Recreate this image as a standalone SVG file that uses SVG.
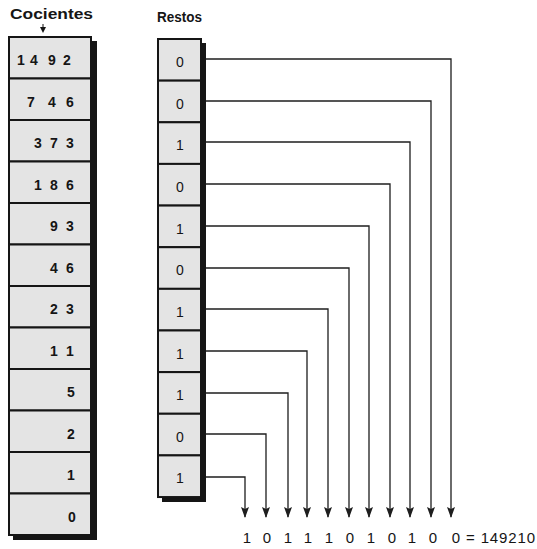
<svg xmlns="http://www.w3.org/2000/svg" width="537" height="549" viewBox="0 0 537 549">
<style>
.bg{fill:#ffffff}
.shadow{fill:#151515}
.cell{fill:#e4e4e4;stroke:#151515;stroke-width:2}
.q{font-family:"Liberation Sans",Arial,sans-serif;font-size:14px;font-weight:bold;fill:#151515;text-anchor:middle}
.r{font-family:"Liberation Sans",Arial,sans-serif;font-size:14px;fill:#151515;text-anchor:middle}
.hdr{font-family:"Liberation Sans",Arial,sans-serif;font-weight:bold;fill:#151515}
.out{font-family:"Liberation Sans",Arial,sans-serif;font-size:15px;fill:#151515;text-anchor:middle}
.con{fill:none;stroke:#1e1e1e;stroke-width:1.3;marker-end:url(#ah)}
</style>
<defs>
<marker id="ah" markerUnits="userSpaceOnUse" markerWidth="11" markerHeight="8" refX="10" refY="4" orient="auto" viewBox="0 0 11 8">
<path d="M0 0 L11 4 L0 8 L2 4 Z" fill="#1e1e1e"/>
</marker>
</defs>
<rect class="bg" x="0" y="0" width="537" height="549"/>

<g id="header-cocientes">
<text class="hdr" x="10" y="19" font-size="14" textLength="83" lengthAdjust="spacingAndGlyphs">Cocientes</text>
<line x1="43" y1="24" x2="43" y2="29" stroke="#151515" stroke-width="1"/>
<path d="M40 27 L46 27 L43 33 Z" fill="#151515"/>
</g>
<g id="header-restos">
<text class="hdr" x="157" y="22" font-size="14" textLength="45" lengthAdjust="spacingAndGlyphs">Restos</text>
</g>

<g id="cocientes">
<rect class="shadow" x="13" y="41" width="84" height="499"/>
<g id="q0"><rect class="cell" x="9" y="37" width="82" height="41.5"/><text class="q" x="21 34 52 67" y="65">1492</text></g>
<g id="q1"><rect class="cell" x="9" y="78.5" width="82" height="41.5"/><text class="q" x="31 52 70" y="106.5">746</text></g>
<g id="q2"><rect class="cell" x="9" y="120" width="82" height="41.5"/><text class="q" x="38 54 70" y="148">373</text></g>
<g id="q3"><rect class="cell" x="9" y="161.5" width="82" height="41.5"/><text class="q" x="38 54 70" y="189.5">186</text></g>
<g id="q4"><rect class="cell" x="9" y="203" width="82" height="41.5"/><text class="q" x="54 70" y="231">93</text></g>
<g id="q5"><rect class="cell" x="9" y="244.5" width="82" height="41.5"/><text class="q" x="54 70" y="272.5">46</text></g>
<g id="q6"><rect class="cell" x="9" y="286" width="82" height="41.5"/><text class="q" x="54 70" y="314">23</text></g>
<g id="q7"><rect class="cell" x="9" y="327.5" width="82" height="41.5"/><text class="q" x="54 70" y="355.5">11</text></g>
<g id="q8"><rect class="cell" x="9" y="369" width="82" height="41.5"/><text class="q" x="71" y="397">5</text></g>
<g id="q9"><rect class="cell" x="9" y="410.5" width="82" height="41.5"/><text class="q" x="71" y="438.5">2</text></g>
<g id="q10"><rect class="cell" x="9" y="452" width="82" height="41.5"/><text class="q" x="71" y="480">1</text></g>
<g id="q11"><rect class="cell" x="9" y="493.5" width="82" height="41.5"/><text class="q" x="72" y="521.5">0</text></g>
</g>

<g id="restos">
<rect class="shadow" x="162" y="43" width="44" height="459"/>
<g id="r0"><rect class="cell" x="158" y="39" width="43" height="41.64"/><text class="r" x="180" y="67">0</text></g>
<g id="r1"><rect class="cell" x="158" y="80.64" width="43" height="41.64"/><text class="r" x="180" y="108.6">0</text></g>
<g id="r2"><rect class="cell" x="158" y="122.28" width="43" height="41.64"/><text class="r" x="180" y="150.3">1</text></g>
<g id="r3"><rect class="cell" x="158" y="163.92" width="43" height="41.64"/><text class="r" x="180" y="191.9">0</text></g>
<g id="r4"><rect class="cell" x="158" y="205.56" width="43" height="41.64"/><text class="r" x="180" y="233.6">1</text></g>
<g id="r5"><rect class="cell" x="158" y="247.2" width="43" height="41.64"/><text class="r" x="180" y="275.2">0</text></g>
<g id="r6"><rect class="cell" x="158" y="288.84" width="43" height="41.64"/><text class="r" x="180" y="316.8">1</text></g>
<g id="r7"><rect class="cell" x="158" y="330.48" width="43" height="41.64"/><text class="r" x="180" y="358.5">1</text></g>
<g id="r8"><rect class="cell" x="158" y="372.12" width="43" height="41.64"/><text class="r" x="180" y="400.1">1</text></g>
<g id="r9"><rect class="cell" x="158" y="413.76" width="43" height="41.64"/><text class="r" x="180" y="441.8">0</text></g>
<g id="r10"><rect class="cell" x="158" y="455.4" width="43" height="41.64"/><text class="r" x="180" y="483.4">1</text></g>
</g>

<g id="connectors">
<path class="con" d="M206 59 H451 V517"/>
<path class="con" d="M206 101 H431 V517"/>
<path class="con" d="M206 142 H410 V517"/>
<path class="con" d="M206 184 H390 V517"/>
<path class="con" d="M206 226 H369 V517"/>
<path class="con" d="M206 268 H349 V517"/>
<path class="con" d="M206 309 H328 V517"/>
<path class="con" d="M206 351 H307 V517"/>
<path class="con" d="M206 393 H288 V517"/>
<path class="con" d="M206 434 H266 V517"/>
<path class="con" d="M206 477 H245 V517"/>
</g>

<g id="result">
<text class="out" x="247" y="543">1</text>
<text class="out" x="267" y="543">0</text>
<text class="out" x="288" y="543">1</text>
<text class="out" x="308" y="543">1</text>
<text class="out" x="329" y="543">1</text>
<text class="out" x="350" y="543">0</text>
<text class="out" x="371" y="543">1</text>
<text class="out" x="392" y="543">0</text>
<text class="out" x="412" y="543">1</text>
<text class="out" x="433" y="543">0</text>
<text class="out" x="456" y="543">0</text>
<text class="out" x="466" y="543" style="text-anchor:start" textLength="69">= 149210</text>
</g>
</svg>
